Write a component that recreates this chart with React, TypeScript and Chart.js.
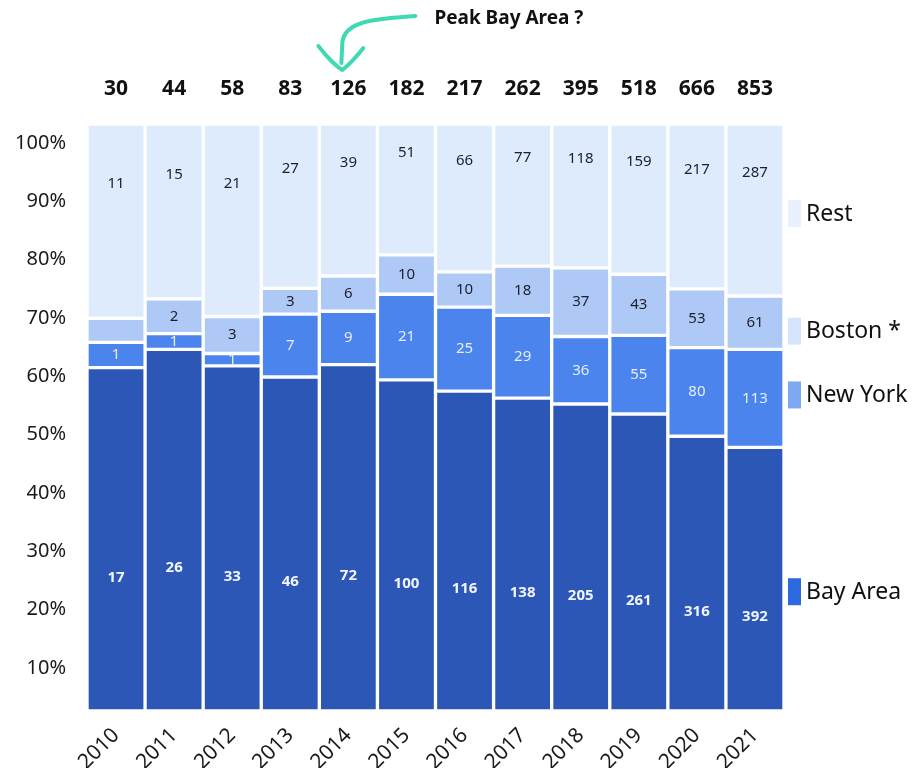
import { useEffect, useRef } from 'react';
import { Chart, registerables } from 'chart.js';

Chart.register(...registerables);

const FONT = "'Noto Sans', 'DejaVu Sans', sans-serif";

// Categories
const years = ['2010', '2011', '2012', '2013', '2014', '2015', '2016', '2017', '2018', '2019', '2020', '2021'];

// Totals shown above each bar
const totals = [30, 44, 58, 83, 126, 182, 217, 262, 395, 518, 666, 853];

// Counts shown inside the segments (null = no label in the source)
const bayCounts = [17, 26, 33, 46, 72, 100, 116, 138, 205, 261, 316, 392];
const nyCounts = [1, 1, 1, 7, 9, 21, 25, 29, 36, 55, 80, 113];
const bostonCounts = [null, 2, 3, 3, 6, 10, 10, 18, 37, 43, 53, 61];
const restCounts = [11, 15, 21, 27, 39, 51, 66, 77, 118, 159, 217, 287];

// Segment shares (%) as drawn in the picture
const bayShare = [58.5, 61.6, 58.8, 56.9, 59.0, 56.4, 54.5, 53.3, 52.3, 50.6, 46.8, 44.9];
const nyShare = [4.3, 2.7, 2.1, 10.7, 9.1, 14.6, 14.3, 14.1, 11.5, 13.4, 15.1, 16.7];
const bostonShare = [4.1, 5.9, 6.3, 4.4, 6.0, 6.7, 6.0, 8.4, 11.7, 10.4, 10.0, 9.1];
const restShare = [33.1, 29.8, 32.8, 28.0, 25.9, 22.3, 25.2, 24.2, 24.5, 25.6, 28.1, 29.3];

// Axis tick labels
const yTickValues = [10, 20, 30, 40, 50, 60, 70, 80, 90, 100];

const seriesNames = ['Bay Area', 'New York', 'Boston *', 'Rest'];
const barColors = ['#2c57b6', '#4a84ec', '#afc9f7', '#ddebfc'];
const legendColors = ['#2d6ae0', '#7ea8f2', '#d6e5fc', '#e9f1fe'];
const labelColors = ['#f2f5ff', '#e6eefe', '#1d1f2e', '#1d1f2e'];
const labelWeights = ['bold', 'normal', 'normal', 'normal'];
const labelOffsets = [38, 0, 0, -37];
const legendOffsets = [12, -4, 8, 3];
const annotationText = 'Peak Bay Area ?';
const annotationIndex = 4;

const overlayPlugin = {
  id: 'overlay',
  afterDatasetsDraw(chart: any) {
    const ctx = chart.ctx;
    const counts = [bayCounts, nyCounts, bostonCounts, restCounts];
    ctx.save();
    ctx.textAlign = 'center';
    ctx.textBaseline = 'middle';
    chart.data.datasets.forEach((_ds: any, i: number) => {
      const meta = chart.getDatasetMeta(i);
      meta.data.forEach((el: any, j: number) => {
        const v = counts[i][j];
        if (v === null || v === undefined) return;
        const p = el.getProps(['x', 'y', 'base'], true);
        const cy = (p.y + p.base) / 2 + labelOffsets[i];
        ctx.font = `${labelWeights[i]} 15px ${FONT}`;
        ctx.fillStyle = labelColors[i];
        ctx.fillText(String(v), p.x, cy);
      });
    });

    // totals above bars
    const topMeta = chart.getDatasetMeta(0);
    ctx.font = `bold 21px ${FONT}`;
    ctx.fillStyle = '#111111';
    topMeta.data.forEach((el: any, j: number) => {
      ctx.fillText(String(totals[j]), el.x, chart.chartArea.top - 35);
    });

    // legend aligned to last bar segments
    const last = years.length - 1;
    chart.data.datasets.forEach((_ds: any, i: number) => {
      const el = chart.getDatasetMeta(i).data[last];
      const p = el.getProps(['y', 'base'], true);
      const cy = (p.y + p.base) / 2 + legendOffsets[i];
      const sx = chart.chartArea.right + 4;
      ctx.fillStyle = legendColors[i];
      ctx.fillRect(sx, cy - 13, 13, 27);
      ctx.fillStyle = '#111111';
      ctx.textAlign = 'left';
      ctx.font = `23px ${FONT}`;
      ctx.fillText(seriesNames[i], sx + 18, cy + 1);
    });

    // annotation arrow
    const ax = chart.getDatasetMeta(0).data[annotationIndex].x - 6;
    ctx.strokeStyle = '#3fd9b3';
    ctx.lineWidth = 4;
    ctx.lineCap = 'round';
    ctx.lineJoin = 'round';
    ctx.beginPath();
    ctx.moveTo(ax + 73, 16);
    ctx.bezierCurveTo(ax + 35, 19, ax + 3, 20, ax, 42);
    ctx.lineTo(ax - 1, 63);
    ctx.stroke();
    ctx.beginPath();
    ctx.moveTo(ax - 24, 46);
    ctx.quadraticCurveTo(ax - 10, 64, ax, 70);
    ctx.quadraticCurveTo(ax + 10, 62, ax + 21, 48);
    ctx.stroke();

    ctx.fillStyle = '#111111';
    ctx.textAlign = 'left';
    ctx.font = `bold 19px ${FONT}`;
    ctx.fillText(annotationText, ax + 92, 19);
    ctx.restore();
  },
};

export default function App() {
  const canvasRef = useRef<HTMLCanvasElement | null>(null);

  useEffect(() => {
    document.body.style.margin = '0';
    const canvas = canvasRef.current;
    if (!canvas) return;
    Chart.defaults.font.family = FONT;
    const shares = [bayShare, nyShare, bostonShare, restShare];
    const chart = new Chart(canvas, {
      type: 'bar',
      data: {
        labels: years,
        datasets: seriesNames.map((name, i) => ({
          label: name,
          data: shares[i],
          backgroundColor: barColors[i],
          borderColor: '#ffffff',
          borderWidth: 2,
          borderSkipped: false,
          barPercentage: 1,
          categoryPercentage: 1,
        })),
      },
      options: {
        responsive: false,
        animation: false,
        layout: { padding: { top: 124, right: 128, left: 0, bottom: 0 } },
        plugins: {
          legend: { display: false },
          tooltip: { enabled: false },
        },
        scales: {
          x: {
            stacked: true,
            grid: { display: false, drawTicks: false },
            border: { display: false },
            ticks: {
              minRotation: 45,
              maxRotation: 45,
              padding: 12,
              color: '#1a1a1a',
              font: { size: 21, family: FONT },
            },
            afterFit(scale: any) {
              scale.height = 57;
            },
          },
          y: {
            stacked: true,
            min: 0,
            max: 100,
            display: false,
          },
          yl: {
            type: 'linear',
            position: 'left',
            min: 2.63,
            max: 103.26,
            grid: { display: false, drawTicks: false },
            border: { display: false },
            afterBuildTicks(scale: any) {
              scale.ticks = yTickValues.map((v) => ({ value: v }));
            },
            ticks: {
              padding: 21,
              color: '#1a1a1a',
              font: { size: 20, family: FONT },
              callback: (v: any) => `${v}%`,
            },
            afterFit(scale: any) {
              scale.width = 87;
            },
          },
        },
      },
      plugins: [overlayPlugin],
    });
    return () => chart.destroy();
  }, []);

  return (
    <div style={{ width: 912, height: 768, background: '#ffffff' }}>
      <canvas ref={canvasRef} width={912} height={768} />
    </div>
  );
}
